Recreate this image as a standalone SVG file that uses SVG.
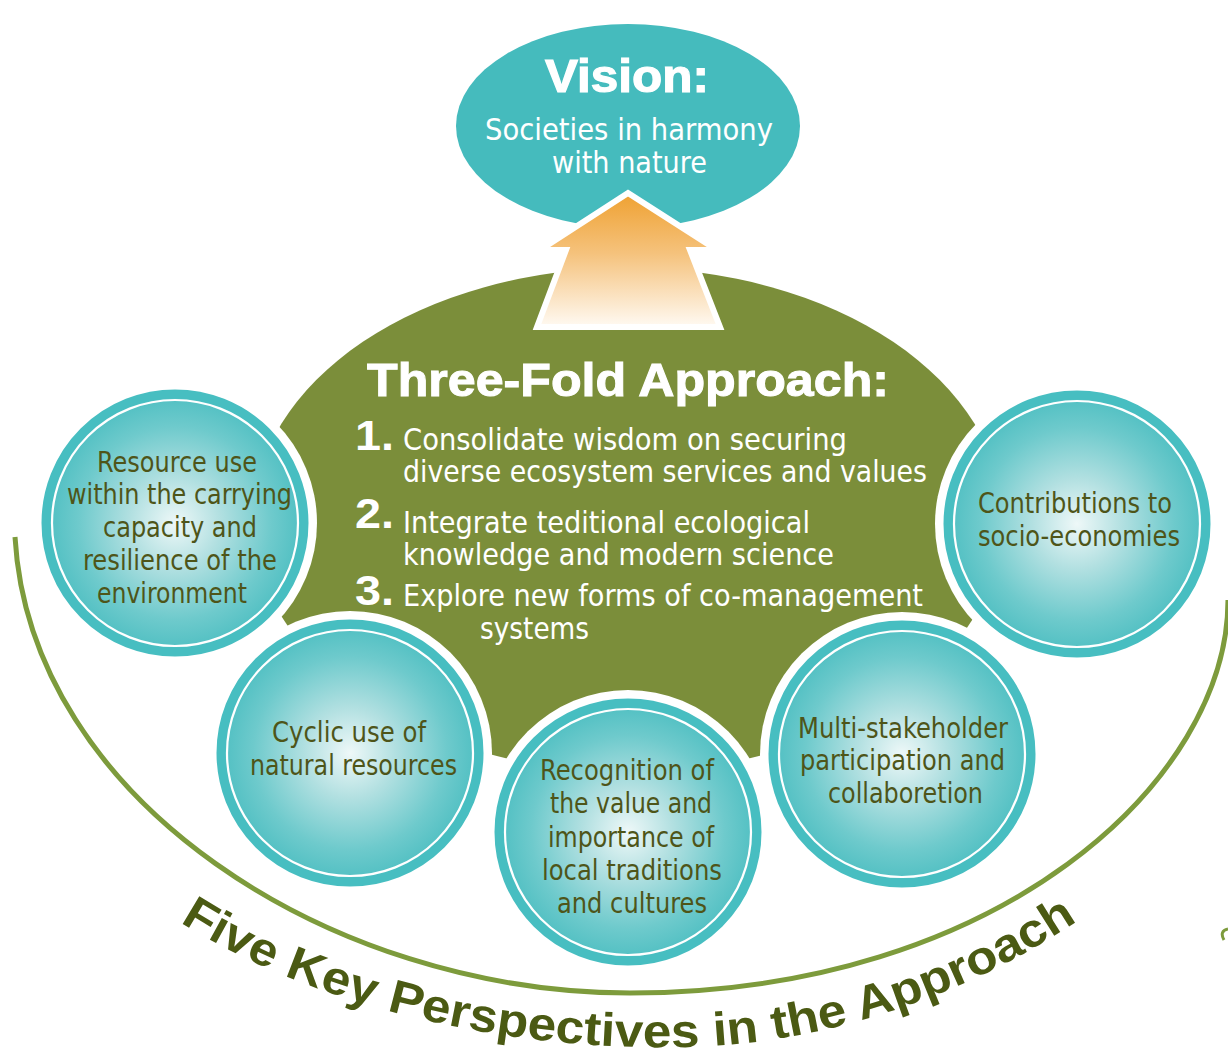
<svg xmlns="http://www.w3.org/2000/svg" width="1228" height="1059" viewBox="0 0 1228 1059">
<defs>
<radialGradient id="cg" cx="50%" cy="50%" r="50%">
<stop offset="0" stop-color="#eef8f8"/>
<stop offset="0.35" stop-color="#b2e0e1"/>
<stop offset="0.75" stop-color="#6ecacc"/>
<stop offset="1" stop-color="#4fbfc2"/>
</radialGradient>
<linearGradient id="ag" x1="0" y1="193" x2="0" y2="327" gradientUnits="userSpaceOnUse">
<stop offset="0" stop-color="#efa131"/>
<stop offset="0.45" stop-color="#f5c27c"/>
<stop offset="1" stop-color="#fffaf3"/>
</linearGradient>
<path id="bp" d="M180,922 C320,1011 520,1052 690,1047 C850,1042 985,982 1076,922"/>
<style>
.wb{fill:#ffffff}
.ring{fill:url(#cg);stroke:#47bec1;stroke-width:9}
.inner{fill:none;stroke:#ffffff;stroke-width:2.2}
.ct{font-family:"Liberation Sans Narrow","DejaVu Sans Condensed","Liberation Sans",sans-serif;font-size:29px;fill:#4e5519}
.wt{font-family:"Liberation Sans Narrow","DejaVu Sans Condensed","Liberation Sans",sans-serif;font-size:31px;fill:#ffffff}
.num{font-family:"Liberation Sans","Arial",sans-serif;font-weight:bold;font-size:42px;fill:#ffffff}
.hd{font-family:"Liberation Sans","Arial",sans-serif;font-weight:bold;fill:#ffffff}
.curve{font-family:"Liberation Sans","Arial",sans-serif;font-weight:bold;font-size:47px;fill:#4b5a13}
</style>
</defs>
<rect width="1228" height="1059" fill="#ffffff"/>

<g id="connectors">
<path d="M15,537 C30,800 330,993 630,993 C1000,993 1228,780 1228,600" fill="none" stroke="#7d9b3c" stroke-width="5"/>
<path d="M1228,929 Q1219,931 1224,940" fill="none" stroke="#7d9b3c" stroke-width="3"/>
</g>

<g id="three-fold">
<ellipse cx="628" cy="520" rx="375" ry="252" fill="#7b8e3a"/>
</g>

<g id="vision">
<ellipse cx="628" cy="126" rx="172" ry="102" fill="#45bbbd"/>
<polygon points="628,193 717,250 690,250 720,327 537,327 566,250 540,250" fill="url(#ag)" stroke="#ffffff" stroke-width="6" stroke-linejoin="miter"/>
<text class="hd" x="545" y="92" font-size="47" stroke="#ffffff" stroke-width="1.2" textLength="164" lengthAdjust="spacingAndGlyphs">Vision:</text>
<text class="wt" x="485" y="140" textLength="288" lengthAdjust="spacingAndGlyphs">Societies in harmony</text>
<text class="wt" x="552" y="173" textLength="155" lengthAdjust="spacingAndGlyphs">with nature</text>
</g>

<g id="three-fold-text">
<text class="hd" x="367" y="396" font-size="46" stroke="#ffffff" stroke-width="1" textLength="522" lengthAdjust="spacingAndGlyphs">Three-Fold Approach:</text>
<text class="num" x="355" y="450" textLength="39" lengthAdjust="spacingAndGlyphs">1.</text>
<text class="wt" x="403" y="450" textLength="444" lengthAdjust="spacingAndGlyphs">Consolidate wisdom on securing</text>
<text class="wt" x="403" y="482" textLength="524" lengthAdjust="spacingAndGlyphs">diverse ecosystem services and values</text>
<text class="num" x="355" y="528" textLength="39" lengthAdjust="spacingAndGlyphs">2.</text>
<text class="wt" x="403" y="533" textLength="407" lengthAdjust="spacingAndGlyphs">Integrate teditional ecological</text>
<text class="wt" x="403" y="565" textLength="431" lengthAdjust="spacingAndGlyphs">knowledge and modern science</text>
<text class="num" x="355" y="605" textLength="39" lengthAdjust="spacingAndGlyphs">3.</text>
<text class="wt" x="403" y="606" textLength="520" lengthAdjust="spacingAndGlyphs">Explore new forms of co-management</text>
<text class="wt" x="480" y="639" textLength="109" lengthAdjust="spacingAndGlyphs">systems</text>
</g>

<g id="resource">
<circle class="wb" cx="175" cy="523" r="142"/>
<circle class="ring" cx="175" cy="523" r="129"/>
<circle class="inner" cx="175" cy="523" r="123"/>
<text class="ct" x="97" y="472" textLength="160" lengthAdjust="spacingAndGlyphs">Resource use</text>
<text class="ct" x="67" y="504" textLength="225" lengthAdjust="spacingAndGlyphs">within the carrying</text>
<text class="ct" x="103" y="537" textLength="154" lengthAdjust="spacingAndGlyphs">capacity and</text>
<text class="ct" x="83" y="570" textLength="194" lengthAdjust="spacingAndGlyphs">resilience of the</text>
<text class="ct" x="97" y="603" textLength="150" lengthAdjust="spacingAndGlyphs">environment</text>
</g>

<g id="contributions">
<circle class="wb" cx="1077" cy="524" r="142"/>
<circle class="ring" cx="1077" cy="524" r="129"/>
<circle class="inner" cx="1077" cy="524" r="123"/>
<text class="ct" x="978" y="513" textLength="194" lengthAdjust="spacingAndGlyphs">Contributions to</text>
<text class="ct" x="978" y="546" textLength="202" lengthAdjust="spacingAndGlyphs">socio-economies</text>
</g>

<g id="cyclic">
<circle class="wb" cx="350" cy="753" r="142"/>
<circle class="ring" cx="350" cy="753" r="129"/>
<circle class="inner" cx="350" cy="753" r="123"/>
<text class="ct" x="272" y="742" textLength="154" lengthAdjust="spacingAndGlyphs">Cyclic use of</text>
<text class="ct" x="250" y="775" textLength="207" lengthAdjust="spacingAndGlyphs">natural resources</text>
</g>

<g id="recognition">
<circle class="wb" cx="628" cy="832" r="142"/>
<circle class="ring" cx="628" cy="832" r="129"/>
<circle class="inner" cx="628" cy="832" r="123"/>
<text class="ct" x="540" y="780" textLength="174" lengthAdjust="spacingAndGlyphs">Recognition of</text>
<text class="ct" x="550" y="813" textLength="162" lengthAdjust="spacingAndGlyphs">the value and</text>
<text class="ct" x="548" y="847" textLength="166" lengthAdjust="spacingAndGlyphs">importance of</text>
<text class="ct" x="542" y="880" textLength="180" lengthAdjust="spacingAndGlyphs">local traditions</text>
<text class="ct" x="557" y="913" textLength="150" lengthAdjust="spacingAndGlyphs">and cultures</text>
</g>

<g id="multi">
<circle class="wb" cx="902" cy="754" r="142"/>
<circle class="ring" cx="902" cy="754" r="129"/>
<circle class="inner" cx="902" cy="754" r="123"/>
<text class="ct" x="798" y="738" textLength="210" lengthAdjust="spacingAndGlyphs">Multi-stakeholder</text>
<text class="ct" x="800" y="770" textLength="205" lengthAdjust="spacingAndGlyphs">participation and</text>
<text class="ct" x="828" y="803" textLength="155" lengthAdjust="spacingAndGlyphs">collaboretion</text>
</g>

<g id="five-key-label">
<text class="curve"><textPath href="#bp" textLength="945" lengthAdjust="spacingAndGlyphs">Five Key Perspectives in the Approach</textPath></text>
</g>
</svg>
